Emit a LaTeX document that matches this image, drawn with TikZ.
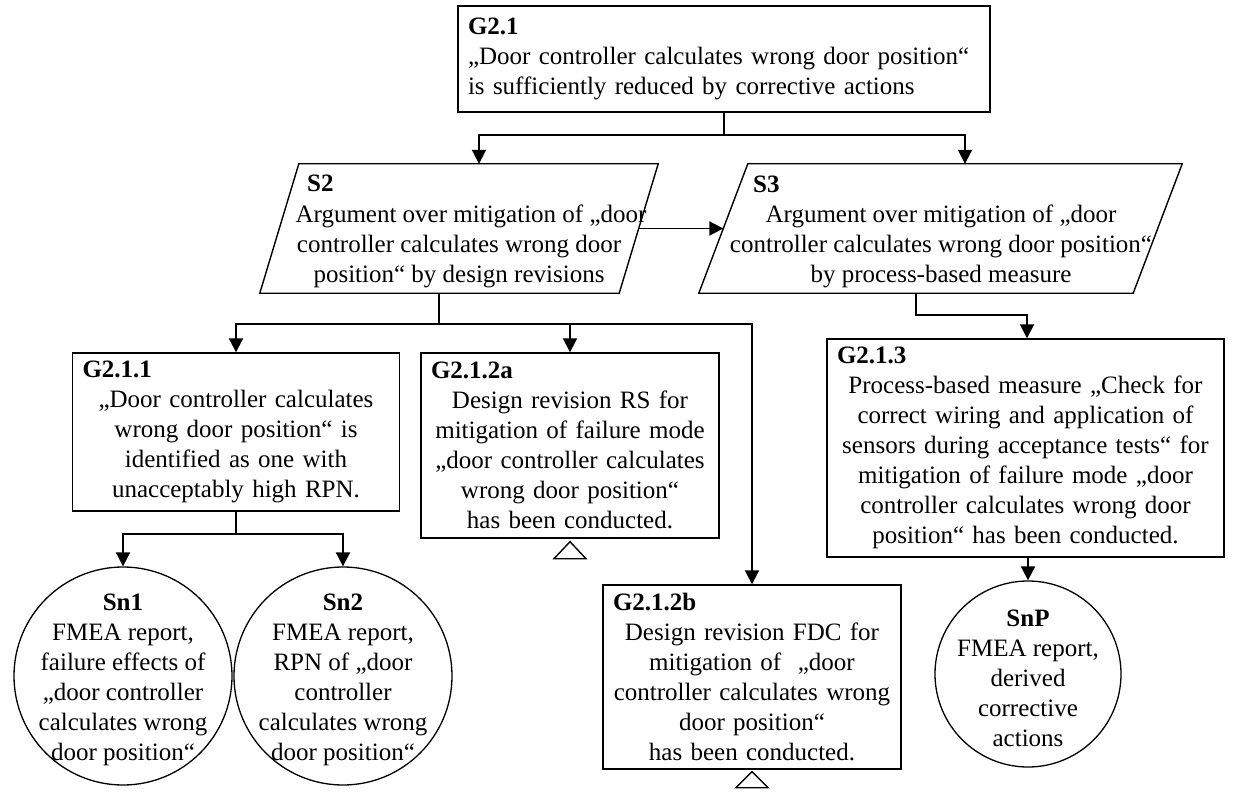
\documentclass[tikz,border=0pt]{standalone}
\usepackage{fontspec}
\setmainfont{Liberation Serif}
\usetikzlibrary{arrows.meta,calc}
\setlength\parindent{0pt}
\newcommand\gtitle[1]{\makebox[\hsize][l]{\hspace*{6pt}\bfseries #1}}
\begin{document}
\begin{tikzpicture}[x=1pt,y=-1pt,
  font=\fontsize{25}{30}\selectfont,
  box/.style={draw, line width=1.4pt, inner xsep=4pt, inner ysep=0pt, align=center},
  strat/.style={inner sep=0pt, minimum height=129pt},
  stext/.style={inner sep=0pt, align=center},
  stitle/.style={inner sep=0pt, anchor=base west, font=\fontsize{25}{30}\selectfont\bfseries},
  boxline/.style={line width=1.4pt},
  sol/.style={draw, circle, line width=1.3pt, inner sep=0pt},
  arr/.style={line width=1.9pt, -{Triangle[length=14pt,width=14pt]}}]
\useasboundingbox (0,0) rectangle (1240,797);

% goal
\node[box, align=left, inner xsep=10pt, text width=512pt, minimum height=106pt] (G21) at (724,59)
  {\textbf{G2.1}\\„Door controller calculates wrong door position“\\is sufficiently reduced by corrective actions};

% strategies
\node[strat, minimum width=359pt] (S2) at (459,228.5) {};
\draw[boxline] ($(S2.north west)+(19.5,0)$) -- ($(S2.north east)+(19.5,0)$) -- ($(S2.south east)+(-19.5,0)$) -- ($(S2.south west)+(-19.5,0)$) -- cycle;
\node[stitle] (S2l) at (307,192) {S2};
\node[stext] (S2t) at (459,246) {\hspace*{24pt}Argument over mitigation of „door\\controller calculates wrong door\\position“ by design revisions};

\node[strat, minimum width=434pt] (S3) at (940.5,228.5) {};
\draw[boxline] ($(S3.north west)+(24.5,0)$) -- ($(S3.north east)+(24.5,0)$) -- ($(S3.south east)+(-24.5,0)$) -- ($(S3.south west)+(-24.5,0)$) -- cycle;
\node[stitle] (S3l) at (753,193) {S3};
\node[stext] (S3t) at (941,246) {Argument over mitigation of „door\\controller calculates wrong door position“\\by process-based measure};

% goals
\node[box, text width=319pt, minimum height=158pt] (G211) at (236,432)
  {\gtitle{G2.1.1}\\„Door controller calculates\\wrong door position“ is\\identified as one with\\unacceptably high RPN.};

\node[box, text width=290pt, minimum height=185pt] (G212a) at (570,445.5)
  {\gtitle{G2.1.2a}\\Design revision RS for\\mitigation of failure mode\\„door controller calculates\\wrong door position“\\has been conducted.};

\node[box, text width=290pt, minimum height=184pt] (G212b) at (752,677)
  {\gtitle{G2.1.2b}\\Design revision FDC for\\mitigation of~ „door\\controller calculates wrong\\door position“\\has been conducted.};

\node[box, text width=389pt, minimum height=218pt] (G213) at (1025.5,448)
  {\gtitle{G2.1.3}\\Process-based measure „Check for\\correct wiring and application of\\sensors during acceptance tests“ for\\mitigation of failure mode „door\\controller calculates wrong door\\position“ has been conducted.};

% undeveloped markers
\draw[boxline] ($(G212a.south)+(0,3)$) -- ++(16,17) -- ++(-32,0) -- cycle;
\draw[boxline] ($(G212b.south)+(0,2)$) -- ++(16,16) -- ++(-32,0) -- cycle;

% solutions
\node[sol, minimum size=218pt, label={[align=center, yshift=-4pt]center:{\textbf{Sn1}\\FMEA report,\\failure effects of\\„door controller\\calculates wrong\\door position“}}] (Sn1) at (123,676) {};
\node[sol, minimum size=218pt, label={[align=center, yshift=-4pt]center:{\textbf{Sn2}\\FMEA report,\\RPN of „door\\controller\\calculates wrong\\door position“}}] (Sn2) at (343,676) {};
\node[sol, minimum size=186pt, label={[align=center, yshift=-4pt]center:{\textbf{SnP}\\FMEA report,\\derived\\corrective\\actions}}] (SnP) at (1028,674) {};

% connectors
\draw[arr] (G21.south) -- ++(0,22) -| ([xshift=20pt]S2.north);
\draw[arr] (G21.south) -- ++(0,22) -| ([xshift=24.5pt]S3.north);
\draw[arr] (S2.east) -- (S3.west);
\coordinate (s2b) at ([xshift=-20pt]S2.south);
\draw[arr] (s2b) -- ++(0,31) -| (G211.north);
\draw[arr] (s2b) -- ++(0,31) -| (G212a.north);
\draw[arr] (s2b) -- ++(0,31) -| (G212b.north);
\draw[arr] ([xshift=-24.5pt]S3.south) -- ++(0,22) -| ([xshift=1.5pt]G213.north);
\draw[arr] (G213.south -| SnP.north) -- (SnP.north);
\draw[arr] (G211.south) -- ++(0,22) -| (Sn1.north);
\draw[arr] (G211.south) -- ++(0,22) -| (Sn2.north);
\end{tikzpicture}
\end{document}
